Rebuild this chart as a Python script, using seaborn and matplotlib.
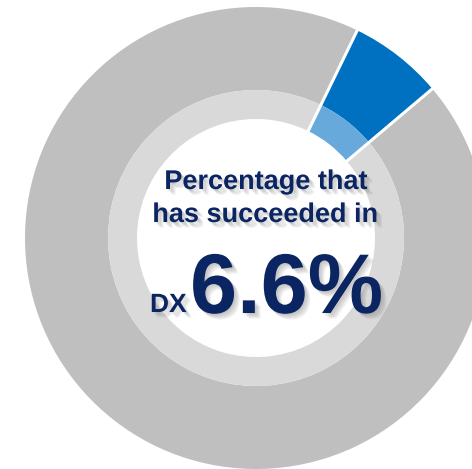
import numpy as np
import matplotlib
matplotlib.use("Agg")
import matplotlib.pyplot as plt
import matplotlib.patheffects as pe
import seaborn as sns

# ---- data ----
categories = ["Succeeded in DX", "Other"]
values = [6.6, 93.4]
outer_colors = ["#0070C0", "#BFBFBF"]
inner_colors = ["#67A9DA", "#D9D9D9"]
title_lines = ["Percentage that", "has succeeded in"]
prefix = "DX"
big_label = "6.6%"

sns.set_theme(style="white")
plt.rcParams['font.family'] = ['Liberation Sans', 'DejaVu Sans']

fig = plt.figure(figsize=(4.72, 4.69), dpi=100)
ax = fig.add_axes([0, 0, 1, 1])

R_OUT, R_MID, R_IN = 231, 148, 119
START = 64

ax.pie(values, radius=R_OUT, colors=outer_colors, startangle=START, counterclock=False,
       wedgeprops=dict(width=R_OUT - R_MID, edgecolor="none", linewidth=0))
ax.pie(values, radius=R_MID, colors=inner_colors, startangle=START, counterclock=False,
       wedgeprops=dict(width=R_MID - R_IN, edgecolor="none", linewidth=0))

# white separators at slice boundaries
cum = np.concatenate([[0], np.cumsum(values)]) / np.sum(values)
for frac in cum[:-1]:
    th = np.deg2rad(START - 360 * frac)
    ax.plot([R_IN * 0.98 * np.cos(th), R_OUT * 1.02 * np.cos(th)],
            [R_IN * 0.98 * np.sin(th), R_OUT * 1.02 * np.sin(th)],
            color="white", lw=2.2, solid_capstyle="butt", zorder=5)

ax.set_xlim(-256, 216)
ax.set_ylim(-231, 238)
ax.set_aspect("equal")
ax.axis("off")

navy = "#0B2462"
shadow = [pe.SimplePatchShadow(offset=(o, -o), shadow_rgbFace="#777777", alpha=0.12)
          for o in (1, 2, 3, 4)] + [pe.Normal()]
ax.text(10, 49, title_lines[0], ha="center", va="baseline", fontsize=19.5, fontweight="bold",
        color=navy, path_effects=shadow, zorder=6)
ax.text(9, 16, title_lines[1], ha="center", va="baseline", fontsize=19.5, fontweight="bold",
        color=navy, path_effects=shadow, zorder=6)
ax.text(-106, -74, prefix, ha="left", va="baseline", fontsize=19, fontweight="bold",
        color=navy, path_effects=shadow, zorder=6)
ax.text(-66, -75, big_label, ha="left", va="baseline", fontsize=61, fontweight="bold",
        color=navy, path_effects=shadow, zorder=6)

fig.savefig("out.png", dpi=100)
